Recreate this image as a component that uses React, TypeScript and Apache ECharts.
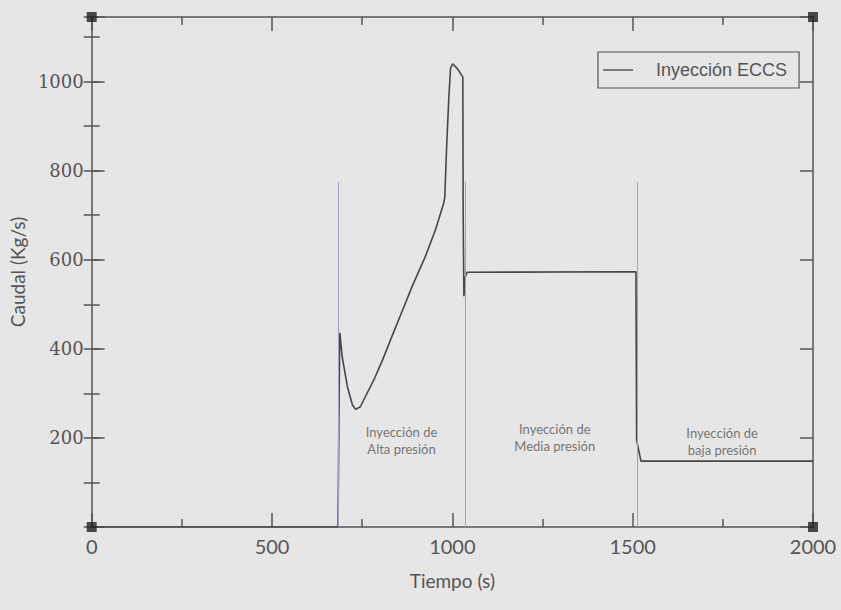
import React, { useEffect, useRef } from "react";
import * as echarts from "echarts";

const seriesName = "Inyección ECCS";
const flowPoints: [number, number][] = [
  [0, 0], [683, 0], [686, 300], [688, 436], [695, 380], [709, 315], [723, 274],
  [732, 264], [745, 270], [759, 293], [785, 335], [806, 374], [830, 423],
  [861, 485], [890, 543], [925, 607], [953, 667], [976, 727], [979, 740],
  [984, 850], [990, 960], [995, 1030], [1001, 1040], [1015, 1028], [1029, 1010],
  [1030, 700], [1032, 518], [1036, 562], [1041, 572], [1509, 573], [1511, 195],
  [1523, 148], [2000, 148],
];
const dividerX = [683, 1035, 1513];
const dividerTop = 775;
const annotations: { x: number; y: number; text: string }[] = [
  { x: 859, y: 195, text: "Inyección de\nAlta presión" },
  { x: 1284, y: 201, text: "Inyección de\nMedia presión" },
  { x: 1748, y: 191, text: "Inyección de\nbaja presión" },
];
const xMin = 0, xMax = 2000, xStep = 500;
const yMin = 0, yMax = 1145, yStep = 200, yMinorStep = 100;
const corners: [number, number][] = [[xMin, yMin], [xMin, yMax], [xMax, yMin], [xMax, yMax]];

export default function App() {
  const ref = useRef<HTMLDivElement>(null);
  useEffect(() => {
    const chart = echarts.init(ref.current!, null, { renderer: "svg" });
    const axisColor = "#555";
    const lineStyle = { color: axisColor, width: 1.5 };
    const baseX = {
      type: "value" as const, min: xMin, max: xMax, interval: xStep,
      splitLine: { show: false },
      axisLine: { show: true, lineStyle, onZero: false },
      axisTick: { show: true, inside: true, length: 14, lineStyle },
      minorTick: { show: true, splitNumber: 2, length: 8, lineStyle },
    };
    const baseY = {
      type: "value" as const, min: yMin, max: yMax,
      splitLine: { show: false },
      axisLine: { show: true, lineStyle, onZero: false },
    };
    chart.setOption({
      animation: false,
      backgroundColor: "#e6e6e6",
      grid: { left: 88, right: 28, top: 17, bottom: 83, containLabel: false },
      legend: {
        data: [seriesName], left: 598, top: 52, icon: "rect",
        padding: [9, 12, 9, 5], borderColor: "#555", borderWidth: 1.2,
        itemWidth: 30, itemHeight: 1.5,
        textStyle: { fontFamily: "Liberation Sans", fontSize: 18, color: "#555", padding: [0, 0, 0, 18] },
      },
      xAxis: [
        {
          ...baseX, position: "bottom",
          name: "Tiempo (s)", nameLocation: "middle", nameGap: 44,
          nameTextStyle: { fontFamily: "Lato", fontSize: 19, color: "#555" },
          axisLabel: {
            show: true, margin: 9, fontFamily: "Lato", fontSize: 20, color: "#555",
            formatter: (v: number) => String(v),
          },
        },
        { ...baseX, position: "top", axisLabel: { show: false } },
      ],
      yAxis: [
        {
          ...baseY, position: "left", interval: yStep,
          axisTick: { show: true, inside: true, length: 13, lineStyle },
          axisLabel: {
            show: true, margin: 8, fontFamily: "DejaVu Serif", fontSize: 18, color: "#555",
            formatter: (v: number) => (v > 0 && v % yStep === 0 ? String(v) : ""),
          },
          name: "Caudal (Kg/s)", nameLocation: "middle", nameGap: 64,
          nameTextStyle: { fontFamily: "Lato", fontSize: 19, color: "#555" },
        },
        {
          ...baseY, position: "right", interval: yStep,
          axisTick: { show: true, inside: true, length: 13, lineStyle },
          axisLabel: { show: false },
        },
        {
          ...baseY, position: "left", interval: yMinorStep,
          axisLine: { show: false },
          axisTick: { show: true, inside: true, length: 8, lineStyle },
          axisLabel: { show: false },
        },
        {
          ...baseY, position: "right", interval: yMinorStep,
          axisLine: { show: false },
          axisTick: { show: true, inside: true, length: 8, lineStyle },
          axisLabel: { show: false },
        },
      ],
      series: [
        {
          name: "dividers", type: "line", data: [], silent: true,
          markLine: {
            silent: true, symbol: "none", label: { show: false },
            lineStyle: { color: "#9ca2d0", width: 1, type: "solid" },
            data: dividerX.map((x) => [{ coord: [x, 0] }, { coord: [x, dividerTop] }]),
          },
        },
        {
          name: seriesName, type: "line", data: flowPoints, symbol: "none",
          lineStyle: { color: "#474747", width: 1.6 },
          itemStyle: { color: "#555" },
        },
        {
          name: "labels", type: "scatter", symbolSize: 0, silent: true,
          data: annotations.map((a) => ({ value: [a.x, a.y], label: { formatter: a.text } })),
          label: {
            show: true, position: "inside", fontFamily: "Lato", fontSize: 13,
            lineHeight: 17, color: "#555", align: "center",
          },
        },
        {
          name: "corners", type: "scatter", symbol: "rect", symbolSize: 10, silent: true,
          clip: false, data: corners, itemStyle: { color: "#222" }, z: 5,
        },
      ],
    });
    return () => chart.dispose();
  }, []);
  return (
    <div
      ref={ref}
      style={{ position: "fixed", left: 0, top: 0, width: 841, height: 610, background: "#e6e6e6" }}
    />
  );
}
